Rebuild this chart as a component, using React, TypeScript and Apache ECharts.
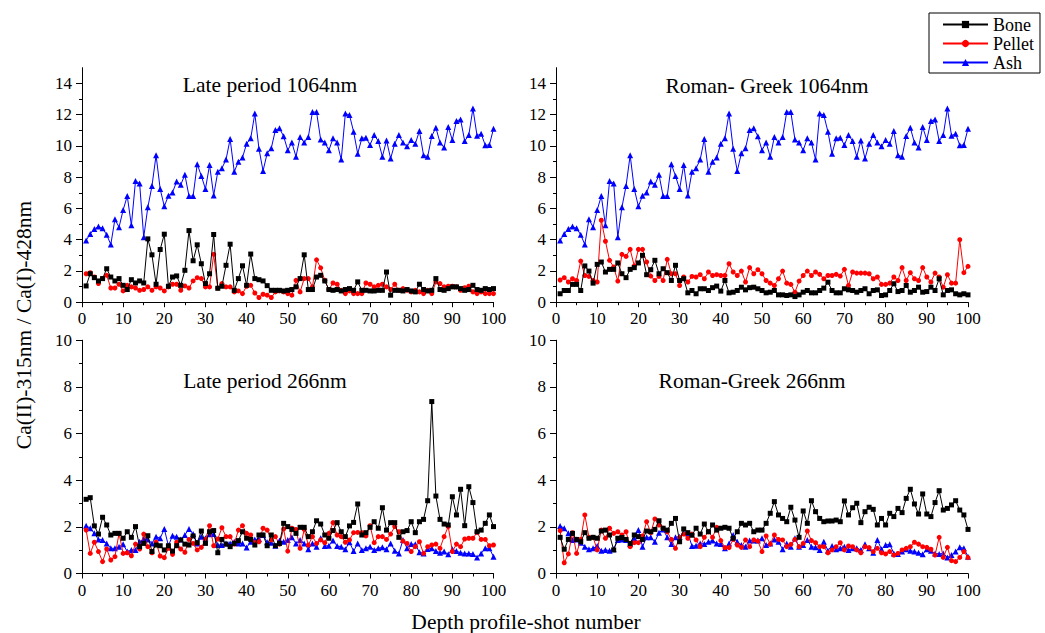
import React, { useEffect, useRef } from "react";
import * as echarts from "echarts";

const FONT = "'Liberation Serif', 'Times New Roman', serif";

// shot numbers 1..100
const shots: number[] = Array.from({ length: 100 }, (_, i) => i + 1);

// ---- Late period 1064nm ----
const boneLate1064: number[] = [
  1.04, 1.82, 1.57, 1.36, 1.51, 2.14, 1.61, 1.36, 1.51, 1.08,
  0.81, 1.44, 1.23, 1.36, 1.23, 4.05, 3.03, 1.15, 3.37, 4.35,
  1.02, 1.61, 1.68, 1.08, 2.04, 4.58, 2.65, 3.67, 2.46, 1.19,
  1.82, 4.33, 0.89, 1.02, 2.36, 3.71, 0.76, 1.51, 2.33, 1.08,
  3.08, 1.51, 1.44, 1.36, 1.06, 0.76, 0.76, 0.76, 0.72, 0.76,
  0.81, 0.98, 1.51, 3.03, 0.81, 0.81, 1.61, 1.72, 1.36, 0.81,
  0.76, 0.81, 0.72, 0.81, 0.87, 0.76, 1.30, 0.76, 0.76, 0.72,
  0.72, 0.76, 0.76, 1.93, 0.45, 0.76, 0.76, 0.72, 0.81, 0.72,
  0.66, 1.15, 0.81, 0.72, 0.76, 1.51, 0.81, 0.76, 0.87, 0.98,
  0.98, 0.87, 0.76, 0.81, 1.08, 0.81, 0.76, 0.87, 0.81, 0.87,
];
const pelletLate1064: number[] = [
  1.82, 1.89, 1.61, 1.19, 1.51, 1.72, 0.91, 0.91, 1.15, 0.72,
  1.08, 0.98, 0.91, 0.76, 0.81, 0.98, 0.76, 0.98, 0.91, 0.72,
  0.98, 1.15, 1.15, 0.76, 1.04, 0.91, 1.36, 1.57, 1.51, 0.98,
  0.98, 3.06, 0.91, 1.19, 0.98, 0.98, 0.66, 0.72, 0.55, 1.02,
  1.08, 0.59, 0.30, 0.51, 0.45, 0.30, 0.66, 0.72, 0.66, 0.55,
  0.45, 1.40, 0.66, 1.51, 1.51, 0.98, 2.71, 2.20, 1.40, 0.81,
  1.23, 1.15, 0.76, 0.55, 0.72, 0.55, 0.55, 0.55, 1.23, 1.15,
  0.98, 1.08, 1.15, 0.98, 0.81, 1.15, 0.76, 0.87, 0.76, 0.66,
  0.76, 0.66, 0.55, 0.76, 0.55, 1.30, 1.19, 0.98, 1.02, 1.02,
  0.98, 0.76, 0.93, 1.02, 0.66, 0.55, 0.66, 0.55, 0.55, 0.55,
];
// Ash 1064nm is the same curve in both periods
const ash1064: number[] = [
  3.95, 4.37, 4.69, 4.84, 4.73, 4.31, 3.69, 5.30, 4.80, 5.90,
  6.79, 4.92, 7.75, 7.60, 4.16, 6.07, 7.43, 9.40, 7.24, 6.13,
  6.81, 7.02, 7.72, 7.51, 8.15, 6.79, 6.79, 8.83, 8.08, 7.24,
  8.78, 6.83, 8.34, 8.57, 9.12, 10.44, 8.34, 8.99, 9.25, 10.14,
  10.48, 12.07, 9.82, 8.40, 9.53, 9.85, 11.01, 11.12, 10.61, 9.72,
  10.21, 9.31, 10.57, 10.21, 10.57, 12.16, 12.16, 10.40, 10.21, 9.72,
  10.48, 10.21, 9.12, 12.07, 11.97, 10.91, 9.50, 10.48, 10.52, 10.06,
  10.69, 10.31, 9.31, 10.35, 9.19, 10.14, 10.69, 10.21, 9.97, 10.38,
  10.14, 10.95, 9.40, 9.31, 10.63, 11.16, 10.21, 9.89, 11.20, 10.38,
  11.59, 11.69, 10.31, 10.69, 12.39, 10.65, 10.78, 10.04, 10.06, 11.10,
];

// ---- Roman-Greek 1064nm ----
const boneRoman1064: number[] = [
  0.54, 0.75, 0.75, 1.14, 1.14, 0.75, 2.32, 1.99, 1.22, 2.42,
  2.57, 1.93, 2.10, 2.10, 2.51, 1.82, 1.57, 2.10, 2.21, 2.51,
  3.00, 1.76, 2.08, 2.68, 1.82, 2.14, 1.89, 1.39, 2.36, 1.39,
  1.50, 0.60, 0.75, 0.54, 0.86, 0.86, 0.75, 0.93, 1.03, 0.71,
  1.39, 0.60, 0.64, 0.75, 0.96, 0.79, 0.93, 0.96, 0.86, 0.75,
  0.60, 0.64, 0.75, 0.47, 0.47, 0.43, 0.47, 0.36, 0.47, 0.64,
  0.75, 0.60, 0.60, 0.75, 0.90, 1.28, 0.75, 0.60, 0.60, 0.86,
  0.79, 0.75, 0.64, 0.75, 0.86, 0.54, 0.75, 0.79, 0.43, 0.47,
  0.75, 1.18, 0.68, 0.75, 1.07, 0.64, 0.75, 0.96, 0.64, 0.68,
  0.96, 0.75, 1.50, 0.47, 0.75, 0.79, 0.54, 0.47, 0.54, 0.47,
];
const pelletRoman1064: number[] = [
  1.42, 1.57, 1.29, 1.50, 1.39, 2.63, 1.71, 1.65, 1.39, 1.29,
  5.24, 3.90, 2.68, 2.25, 1.35, 3.06, 2.93, 3.38, 2.32, 3.38,
  3.38, 2.57, 1.67, 1.39, 1.65, 1.39, 2.74, 1.82, 1.82, 1.07,
  1.61, 1.29, 1.65, 1.61, 1.76, 1.50, 1.93, 1.71, 1.76, 1.71,
  1.71, 2.46, 1.93, 1.71, 1.99, 1.29, 2.21, 1.82, 2.08, 1.82,
  1.39, 1.22, 1.07, 1.50, 1.99, 1.22, 1.14, 0.64, 1.35, 1.71,
  1.99, 1.71, 1.93, 1.78, 1.50, 1.71, 1.71, 1.78, 1.67, 2.10,
  1.07, 1.93, 1.86, 1.86, 1.86, 1.82, 1.50, 1.61, 1.14, 1.14,
  1.22, 1.61, 1.39, 2.21, 1.39, 1.89, 1.50, 1.39, 2.21, 1.61,
  1.29, 1.86, 1.61, 0.96, 1.76, 1.22, 1.22, 4.00, 1.89, 2.29,
];

// ---- Late period 266nm ----
const boneLate266: number[] = [
  3.18, 3.25, 2.04, 1.69, 2.41, 2.08, 1.65, 1.72, 1.72, 1.51,
  1.79, 1.55, 2.01, 1.15, 1.29, 1.62, 0.94, 1.22, 1.19, 1.01,
  1.19, 0.96, 1.19, 1.44, 1.26, 1.22, 1.61, 1.32, 1.82, 1.29,
  1.79, 1.84, 0.89, 1.46, 1.26, 1.15, 1.29, 1.41, 1.79, 1.51,
  1.46, 1.22, 1.65, 1.65, 1.19, 1.65, 1.19, 1.29, 2.15, 2.01,
  1.89, 1.72, 1.98, 1.98, 1.58, 1.79, 2.26, 2.12, 1.65, 1.51,
  1.84, 2.18, 1.79, 1.58, 2.04, 2.19, 2.98, 1.65, 1.75, 1.98,
  2.22, 1.94, 2.82, 1.86, 2.18, 2.18, 1.55, 1.79, 1.84, 2.22,
  1.75, 2.22, 2.32, 3.12, 7.37, 3.32, 2.32, 2.12, 2.08, 3.29,
  2.51, 3.61, 2.05, 3.72, 3.04, 1.79, 1.86, 2.15, 2.51, 2.01,
];
const pelletLate266: number[] = [
  1.86, 0.86, 1.34, 0.94, 0.51, 1.05, 0.58, 0.72, 1.72, 0.86,
  0.89, 0.76, 1.26, 1.05, 1.69, 1.15, 0.89, 1.34, 0.75, 0.68,
  1.08, 0.82, 1.34, 1.05, 0.91, 1.46, 1.29, 1.01, 1.12, 1.46,
  2.05, 1.19, 1.48, 1.96, 1.58, 1.58, 1.26, 1.86, 2.05, 1.72,
  1.65, 1.32, 1.36, 1.94, 1.86, 1.44, 1.58, 1.26, 1.91, 0.96,
  1.94, 1.89, 1.08, 1.89, 1.22, 1.58, 1.29, 1.44, 1.32, 1.72,
  2.18, 1.65, 1.58, 1.34, 1.44, 1.75, 1.76, 1.75, 1.61, 2.05,
  1.32, 1.58, 1.58, 1.46, 1.69, 2.01, 1.79, 1.39, 1.29, 0.94,
  1.15, 1.36, 0.86, 1.15, 1.22, 1.26, 1.08, 1.58, 2.01, 0.94,
  1.26, 1.15, 1.48, 1.51, 1.51, 1.76, 1.46, 1.46, 1.19, 1.22,
];
const ashLate266: number[] = [
  2.05, 1.94, 1.72, 1.46, 1.44, 1.29, 1.08, 1.08, 1.15, 1.25,
  0.94, 1.01, 1.01, 1.36, 1.48, 1.46, 1.29, 1.58, 1.51, 1.91,
  1.19, 1.62, 1.58, 1.46, 1.65, 1.91, 1.69, 1.29, 1.58, 1.51,
  1.68, 1.69, 1.22, 1.22, 1.29, 1.29, 1.36, 1.29, 1.29, 1.11,
  1.36, 1.46, 1.48, 1.65, 1.34, 1.32, 1.19, 1.41, 1.36, 1.44,
  1.55, 1.29, 1.44, 1.29, 1.04, 1.29, 1.15, 1.51, 1.18, 1.19,
  1.41, 1.18, 1.15, 1.04, 1.34, 0.96, 1.29, 1.01, 1.08, 1.15,
  1.01, 1.08, 1.12, 1.04, 1.29, 0.98, 0.86, 1.44, 1.08, 1.26,
  1.25, 0.91, 0.86, 1.05, 1.08, 0.96, 0.89, 0.94, 0.82, 1.04,
  0.96, 0.89, 0.86, 0.86, 0.84, 0.69, 0.86, 1.08, 1.08, 0.72,
];

// ---- Roman-Greek 266nm ----
const boneRoman266: number[] = [
  1.55, 1.04, 1.46, 1.72, 1.46, 1.36, 1.75, 1.51, 1.55, 1.51,
  1.82, 1.86, 1.65, 1.01, 1.51, 1.54, 1.46, 1.29, 1.65, 1.58,
  1.46, 1.82, 1.79, 1.89, 2.26, 1.94, 1.86, 2.15, 2.36, 1.36,
  1.91, 1.75, 1.64, 1.94, 1.69, 2.12, 1.79, 2.08, 1.86, 1.94,
  1.98, 1.94, 1.51, 1.79, 2.15, 2.08, 2.15, 1.79, 1.86, 1.86,
  2.15, 2.58, 3.08, 2.51, 2.36, 2.22, 2.84, 2.29, 1.55, 2.68,
  2.15, 3.12, 2.65, 2.36, 2.22, 2.25, 2.25, 2.29, 2.22, 3.11,
  2.51, 2.82, 3.01, 2.18, 2.65, 2.84, 2.75, 2.08, 2.36, 2.08,
  2.58, 2.44, 2.79, 2.61, 3.22, 3.61, 2.98, 2.55, 3.41, 2.55,
  2.44, 3.04, 3.55, 2.72, 2.79, 2.94, 3.12, 2.72, 2.51, 1.89,
];
const pelletRoman266: number[] = [
  1.84, 0.46, 0.84, 1.75, 0.86, 1.46, 2.51, 1.55, 1.55, 1.01,
  1.86, 1.51, 1.94, 1.72, 1.79, 1.65, 1.79, 1.15, 1.32, 1.32,
  1.61, 2.22, 1.75, 2.34, 2.08, 1.94, 1.79, 1.46, 1.08, 1.55,
  1.69, 1.51, 1.69, 1.44, 1.15, 1.55, 1.79, 1.55, 1.98, 1.41,
  1.11, 1.11, 1.46, 1.22, 1.12, 1.44, 1.15, 1.44, 1.39, 0.94,
  1.61, 1.26, 1.65, 1.46, 1.44, 1.15, 1.25, 1.46, 1.15, 1.29,
  1.82, 1.41, 1.32, 1.15, 1.15, 0.89, 1.01, 1.15, 1.32, 1.01,
  1.18, 1.15, 1.01, 0.89, 1.15, 1.11, 0.94, 1.08, 0.89, 0.84,
  0.94, 0.79, 0.86, 1.01, 1.08, 1.15, 1.34, 1.26, 1.15, 1.12,
  1.04, 0.79, 1.55, 0.69, 1.12, 0.55, 0.51, 0.69, 0.94, 0.68,
];
const ashRoman266: number[] = [
  2.04, 1.94, 1.72, 1.44, 1.46, 1.32, 1.15, 1.04, 1.08, 1.18,
  0.98, 1.01, 0.98, 1.04, 1.44, 1.46, 1.44, 1.26, 1.51, 1.86,
  1.15, 1.55, 1.55, 1.36, 1.75, 1.89, 1.55, 1.26, 1.55, 1.58,
  1.75, 1.72, 1.18, 1.19, 1.29, 1.26, 1.36, 1.41, 1.29, 1.26,
  1.08, 1.29, 1.65, 1.36, 1.22, 1.15, 1.41, 1.41, 1.41, 1.51,
  1.22, 1.29, 1.46, 1.36, 1.04, 1.29, 1.15, 1.51, 1.15, 1.22,
  1.44, 1.15, 1.12, 1.01, 1.36, 0.98, 1.18, 1.04, 1.08, 1.15,
  1.01, 1.08, 1.08, 1.01, 1.25, 1.08, 0.89, 1.44, 1.04, 1.22,
  1.25, 0.86, 0.84, 0.94, 1.04, 0.98, 0.94, 0.89, 0.82, 1.04,
  0.98, 0.86, 0.84, 0.86, 0.69, 0.79, 0.94, 1.12, 1.08, 0.72,
];

const panelTitles: string[] = [
  "Late period 1064nm",
  "Roman- Greek 1064nm",
  "Late period 266nm",
  "Roman-Greek 266nm",
];
const seriesNames: string[] = ["Bone", "Pellet", "Ash"];
const topYTicks: number[] = [0, 2, 4, 6, 8, 10, 12, 14];

const panelData: number[][][] = [
  [boneLate1064, pelletLate1064, ash1064],
  [boneRoman1064, pelletRoman1064, ash1064],
  [boneLate266, pelletLate266, ashLate266],
  [boneRoman266, pelletRoman266, ashRoman266],
];

const colors = ["#000000", "#ff0000", "#0000ff"];
const symbols = ["rect", "circle", "triangle"];
const symbolSizes = [5, 5, 6];

export default function App() {
  const ref = useRef<HTMLDivElement>(null);
  useEffect(() => {
    if (!ref.current) return;
    const chart = echarts.init(ref.current, undefined, { renderer: "svg" });

    const grids = [
      { left: 82, top: 67.7, width: 411.5, height: 234.5 },
      { left: 556, top: 67.7, width: 412, height: 234.5 },
      { left: 82, top: 340.2, width: 411.5, height: 233.3 },
      { left: 556, top: 340.2, width: 412, height: 233.3 },
    ];

    const line = { color: "#000", width: 1 };

    const xAxis = grids.map((_, i) => ({
      gridIndex: i,
      type: "value",
      min: 0,
      max: 100,
      interval: 10,
      axisLine: { show: true, onZero: false, lineStyle: line },
      axisTick: { show: true, length: 5, lineStyle: line },
      minorTick: { show: true, splitNumber: 2, length: 3, lineStyle: line },
      splitLine: { show: false },
      minorSplitLine: { show: false },
      axisLabel: { color: "#000", fontSize: 17, fontFamily: FONT, margin: 8 },
    }));

    const yAxis = grids.map((_, i) => {
      const top = i < 2;
      return {
        gridIndex: i,
        type: "value",
        min: 0,
        max: top ? 15 : 10,
        interval: 2,
        axisLine: { show: true, onZero: false, lineStyle: line },
        axisTick: top
          ? { show: true, length: 6, lineStyle: line, customValues: topYTicks }
          : { show: true, length: 6, lineStyle: line },
        minorTick: { show: true, splitNumber: 2, length: 3, lineStyle: line },
        splitLine: { show: false },
        minorSplitLine: { show: false },
        axisLabel: {
          color: "#000",
          fontSize: 17,
          fontFamily: FONT,
          margin: 10,
          showMaxLabel: !top,
        },
      };
    });

    const series: any[] = [];
    panelData.forEach((arrs, p) => {
      arrs.forEach((arr, s) => {
        series.push({
          name: seriesNames[s],
          type: "line",
          xAxisIndex: p,
          yAxisIndex: p,
          data: shots.map((x, k) => [x, arr[k]]),
          symbol: symbols[s],
          symbolSize: symbolSizes[s],
          showSymbol: true,
          itemStyle: { color: colors[s] },
          lineStyle: { color: colors[s], width: 1 },
          z: 3 - s,
        });
      });
    });

    const titlePos = [
      [270, 85],
      [767, 86],
      [265, 381],
      [752, 381],
    ];

    const textStyle = (t: string) => ({
      text: t,
      fontSize: 21.5,
      fontFamily: FONT,
      fill: "#000",
      textAlign: "center",
      textVerticalAlign: "middle",
    });

    const graphic: any[] = panelTitles.map((t, i) => ({
      type: "text",
      x: titlePos[i][0],
      y: titlePos[i][1],
      style: textStyle(t),
    }));
    graphic.push({
      type: "text",
      x: 24,
      y: 325,
      rotation: Math.PI / 2,
      style: textStyle("Ca(II)-315nm / Ca(I)-428nm"),
    });
    graphic.push({
      type: "text",
      x: 526,
      y: 622,
      style: textStyle("Depth profile-shot number"),
    });

    chart.setOption({
      animation: false,
      backgroundColor: "#ffffff",
      textStyle: { fontFamily: FONT },
      grid: grids,
      xAxis,
      yAxis,
      legend: {
        data: seriesNames,
        orient: "vertical",
        left: 929,
        top: 13,
        padding: [2, 6, 1, 13],
        itemWidth: 45,
        itemHeight: 9,
        itemGap: 0,
        borderColor: "#000",
        borderWidth: 1,
        borderRadius: 0,
        textStyle: { fontSize: 18, lineHeight: 19, fontFamily: FONT, color: "#000" },
      },
      graphic,
      series,
    });

    return () => chart.dispose();
  }, []);

  return (
    <div
      ref={ref}
      style={{ position: "fixed", left: 0, top: 0, width: 1045, height: 633, background: "#fff" }}
    />
  );
}
